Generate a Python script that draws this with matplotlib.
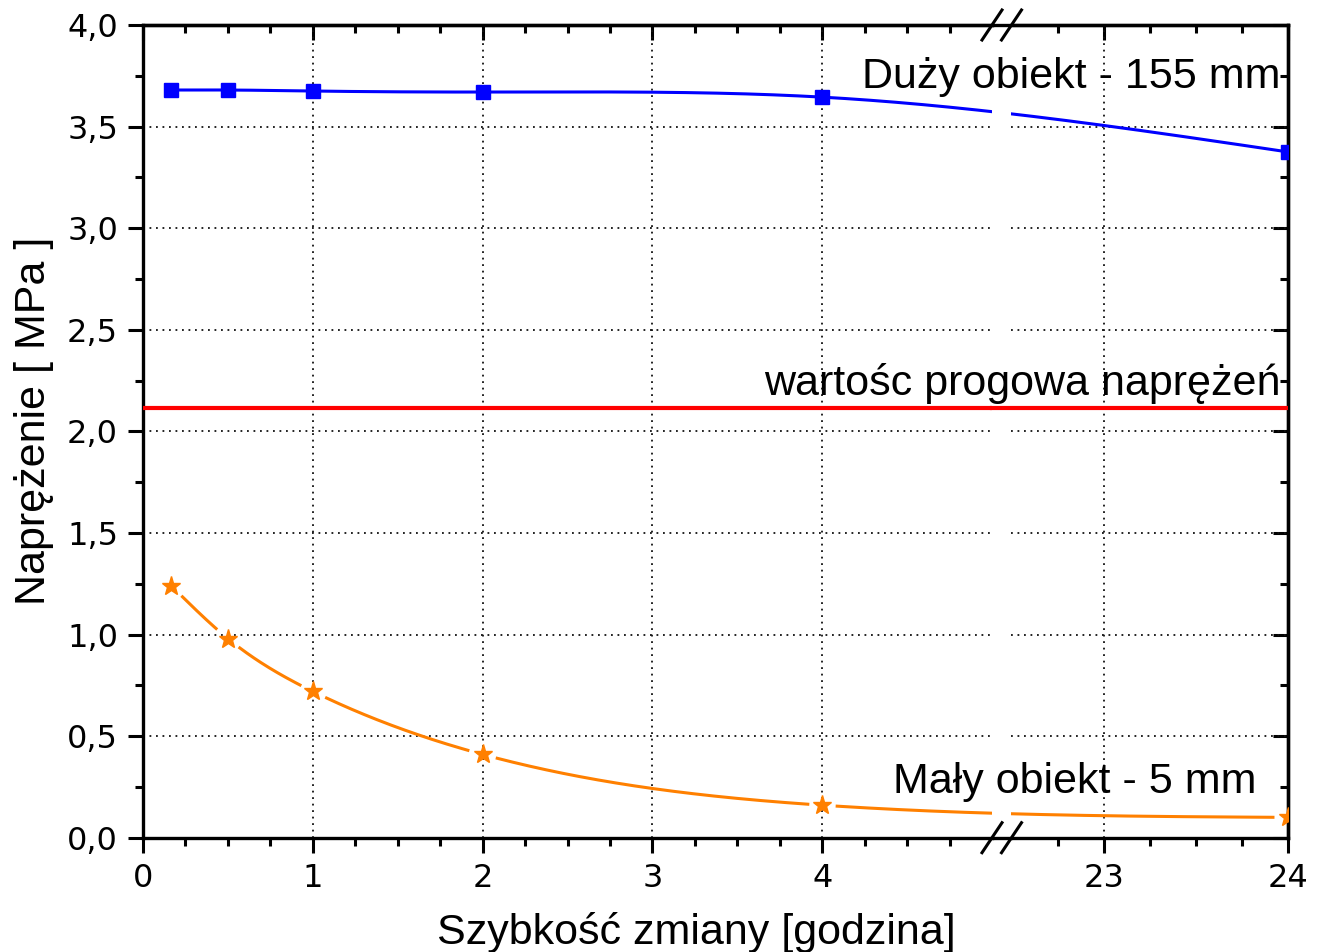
import numpy as np
import matplotlib
matplotlib.use('Agg')
import matplotlib.pyplot as plt
from matplotlib.lines import Line2D
from matplotlib.ticker import FixedLocator, FuncFormatter

# Measured stress vs. rate of change (hours)
hours = np.array([1 / 6, 0.5, 1.0, 2.0, 4.0, 24.0])
stress_large = np.array([3.68, 3.68, 3.675, 3.67, 3.645, 3.375])
stress_small = np.array([1.24, 0.98, 0.72, 0.41, 0.16, 0.10])
threshold = 2.115

label_large = 'Duży obiekt - 155 mm'
label_small = 'Mały obiekt - 5 mm'
label_threshold = 'wartośc progowa naprężeń'
xlabel = 'Szybkość zmiany [godzina]'
ylabel = 'Naprężenie [ MPa ]'

xticks_left = [0, 1, 2, 3, 4]
xminor_left = [0.25, 0.5, 0.75, 1.25, 1.5, 1.75, 2.25, 2.5, 2.75,
               3.25, 3.5, 3.75, 4.25, 4.5, 4.75]
xticks_right = [23, 24]
xminor_right = [22.75, 23.25, 23.5, 23.75]
yticks = [0.0, 0.5, 1.0, 1.5, 2.0, 2.5, 3.0, 3.5, 4.0]
yminor = [0.25, 0.75, 1.25, 1.75, 2.25, 2.75, 3.25, 3.75]

# broken x axis: 0..5 | 22.5..24
BREAK_LO, BREAK_HI = 5.0, 22.5
GAP = 0.115          # width of the gap, in left-axis units
STRETCH = 1.0895     # right segment is drawn slightly wider per hour

BLUE = '#0000ff'
ORANGE = '#ff8000'
RED = '#ff0000'
W, H = 1324, 952


def to_u(x):
    x = np.asarray(x, float)
    return np.where(x <= BREAK_LO, x, BREAK_LO + GAP + (x - BREAK_HI) * STRETCH)


def from_u(u):
    return np.where(u <= BREAK_LO + GAP / 2, u,
                    BREAK_HI + (u - BREAK_LO - GAP) / STRETCH)


def natural_spline(xk, yk, xs):
    n = len(xk)
    h = np.diff(xk)
    A = np.zeros((n, n))
    r = np.zeros(n)
    A[0, 0] = A[-1, -1] = 1.0
    for i in range(1, n - 1):
        A[i, i - 1] = h[i - 1]
        A[i, i] = 2 * (h[i - 1] + h[i])
        A[i, i + 1] = h[i]
        r[i] = 6 * ((yk[i + 1] - yk[i]) / h[i] - (yk[i] - yk[i - 1]) / h[i - 1])
    M = np.linalg.solve(A, r)
    idx = np.clip(np.searchsorted(xk, xs) - 1, 0, n - 2)
    x0, x1 = xk[idx], xk[idx + 1]
    hh = x1 - x0
    a = (x1 - xs) / hh
    b = (xs - x0) / hh
    return (a * yk[idx] + b * yk[idx + 1]
            + ((a ** 3 - a) * M[idx] + (b ** 3 - b) * M[idx + 1]) * hh ** 2 / 6)


plt.rcParams['font.family'] = 'DejaVu Sans'
TXT = dict(family='Liberation Sans', fontsize=31)

fig = plt.figure(figsize=(W / 100, H / 100), dpi=100)
x0_px, x_brk, x_res, x1_px = 143, 992, 1011.5, 1288.3
y_top, y_bot = 25, 837.7
bottom = (H - y_bot) / H
height = (y_bot - y_top) / H
ax_l = fig.add_axes([x0_px / W, bottom, (x_brk - x0_px) / W, height])
ax_r = fig.add_axes([x_res / W, bottom, (x1_px - x_res) / W, height], sharey=ax_l)

ax_l.set_xlim(0, BREAK_LO)
ax_r.set_xlim(BREAK_HI, 24)
ax_l.set_ylim(0, 4)

ax_l.spines['right'].set_visible(False)
ax_r.spines['left'].set_visible(False)

comma = FuncFormatter(lambda v, pos: f'{v:.1f}'.replace('.', ','))
for ax, maj, mnr in ((ax_l, xticks_left, xminor_left),
                     (ax_r, xticks_right, xminor_right)):
    for s in ax.spines.values():
        s.set_linewidth(2.4)
    ax.xaxis.set_major_locator(FixedLocator(maj))
    ax.xaxis.set_minor_locator(FixedLocator(mnr))
    ax.yaxis.set_major_locator(FixedLocator(yticks))
    ax.yaxis.set_minor_locator(FixedLocator(yminor))
    ax.tick_params(which='major', direction='out', length=11, width=2.2,
                   labelsize=23, pad=7)
    ax.tick_params(which='minor', direction='out', length=6, width=2.2)
    ax.grid(True, which='major', color='#111111', linestyle=(0, (1, 2.6)),
            linewidth=1.3)

    top = ax.secondary_xaxis('top')
    top.xaxis.set_major_locator(FixedLocator(maj))
    top.xaxis.set_minor_locator(FixedLocator(mnr))
    top.tick_params(which='major', direction='in', length=11, width=2.2,
                    labeltop=False)
    top.tick_params(which='minor', direction='in', length=6, width=2.2)
    top.spines['top'].set_linewidth(2.4)

ax_l.yaxis.set_major_formatter(comma)
ax_l.tick_params(axis='y', pad=7)
ax_r.tick_params(axis='y', which='both', left=False, labelleft=False)

right = ax_r.secondary_yaxis('right')
right.yaxis.set_major_locator(FixedLocator(yticks))
right.yaxis.set_minor_locator(FixedLocator(yminor))
right.tick_params(which='major', direction='in', length=11, width=2.2,
                  labelright=False)
right.tick_params(which='minor', direction='in', length=6, width=2.2)
right.spines['right'].set_linewidth(2.4)

# smooth curves through the measurements, computed on the drawn x scale
uk = to_u(hours)
us = np.linspace(uk[0], uk[-1], 800)
xs = from_u(us)
curve_large = natural_spline(uk, stress_large, us)
curve_small = natural_spline(uk, stress_small, us)

# leave a small gap in the orange line around each star
pts = ax_l.transData.transform(np.column_stack([us, curve_small]))
mk = ax_l.transData.transform(np.column_stack([uk, stress_small]))
dist = np.min(np.hypot(pts[:, None, 0] - mk[None, :, 0],
                       pts[:, None, 1] - mk[None, :, 1]), axis=1)
curve_small_gapped = np.where(dist < 14, np.nan, curve_small)

for ax in (ax_l, ax_r):
    ax.axhline(threshold, color=RED, lw=3.0, zorder=3)
    ax.plot(xs, curve_large, color=BLUE, lw=2.2, zorder=4)
    ax.plot(hours, stress_large, ls='none', marker='s', ms=10, color=BLUE,
            zorder=5)
    ax.plot(xs, curve_small_gapped, color=ORANGE, lw=2.2, zorder=4)
    ax.plot(hours, stress_small, ls='none', marker='*', ms=14, color=ORANGE,
            zorder=5)

# threshold line and frame continue across the break
ax_l.plot([BREAK_LO, BREAK_LO + GAP], [threshold, threshold], color=RED,
          lw=3.0, clip_on=False, zorder=3)
gap_frac = (x_res - x_brk) / (x_brk - x0_px)
for yy in (0, 1):
    ax_l.plot([1, 1 + gap_frac], [yy, yy], transform=ax_l.transAxes,
              color='black', lw=2.4, clip_on=False, solid_capstyle='butt')

# break marks
for cx in (x_brk, x_res):
    for cy in (y_top, y_bot):
        fig.add_artist(Line2D([(cx - 10) / W, (cx + 10) / W],
                              [(H - cy - 15) / H, (H - cy + 15) / H],
                              transform=fig.transFigure, color='black', lw=2.2))

ax_r.text(23.96, 3.69, label_large, ha='right', va='baseline',
          clip_on=False, zorder=6, **TXT)
ax_r.text(23.96, 2.178, label_threshold, ha='right', va='baseline',
          clip_on=False, zorder=6, **TXT)
ax_r.text(23.83, 0.218, label_small, ha='right', va='baseline',
          clip_on=False, zorder=6, **TXT)

fig.text(696 / W, (H - 944) / H, xlabel, ha='center', va='baseline', **TXT)
ax_l.set_ylabel(ylabel, **TXT)
ax_l.yaxis.set_label_coords(-0.105, 0.513)

fig.savefig('out.png', dpi=100)
